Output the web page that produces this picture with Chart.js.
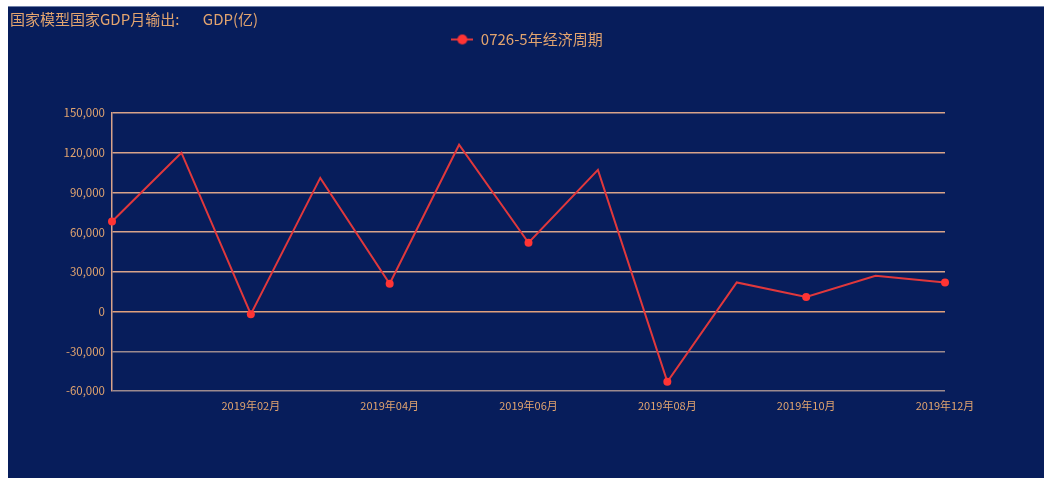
<!DOCTYPE html>
<html>
<head>
<meta charset="utf-8">
<script src="https://cdn.jsdelivr.net/npm/chart.js@4/dist/chart.umd.min.js"></script>
<style>
    body { margin: 0; background: #ffffff; }
    #panel {
        position: absolute; left: 8px; top: 7px;
        width: 1036px; height: 471px;
        background: #071d5b;
        box-shadow: 0 -1px 0 #7080a8;
    }
</style>
</head>
<body>
<div id="panel"><canvas id="gdpChart" width="1036" height="471"></canvas></div>
<script>
// Data
const months = ['2018年12月', '2019年01月', '2019年02月', '2019年03月', '2019年04月', '2019年05月',
    '2019年06月', '2019年07月', '2019年08月', '2019年09月', '2019年10月', '2019年11月', '2019年12月'];
const gdpValues = [68000, 120000, -2000, 101000, 21000, 126000, 52000, 107000, -53000, 22000, 11000, 27000, 22000];
const yTicks = [-60000, -30000, 0, 30000, 60000, 90000, 120000, 150000];

const seriesName = '0726-5年经济周期';
const titleText = '国家模型国家GDP月输出:       GDP(亿)';

const textColor = '#e2a46f';
const gridUpper = '#d8a38a';
const gridZero = '#e0a07c';
const gridLower = '#9c8a8e';
const lineColor = '#e0383c';
const dotColor = '#ff3434';
const fontFamily = '"Noto Sans CJK SC", "Microsoft YaHei", sans-serif';

// legend icon: short line with a dot, like the original
const legendIcon = document.createElement('canvas');
legendIcon.width = 22;
legendIcon.height = 12;
(function () {
    const c = legendIcon.getContext('2d');
    c.strokeStyle = lineColor;
    c.lineWidth = 2;
    c.beginPath();
    c.moveTo(0, 6);
    c.lineTo(22, 6);
    c.stroke();
    c.fillStyle = dotColor;
    c.beginPath();
    c.arc(11, 6, 5, 0, Math.PI * 2);
    c.fill();
})();

// push the plot down below the legend
const legendGap = {
    id: 'legendGap',
    beforeInit(chart) {
        const fit = chart.legend.fit;
        chart.legend.fit = function () {
            fit.bind(chart.legend)();
            this.height += 56;
        };
    }
};

function gridColor(c) {
    const v = c.tick ? c.tick.value : 0;
    if (v > 0) return gridUpper;
    if (v === 0) return gridZero;
    return gridLower;
}

const ctx = document.getElementById('gdpChart').getContext('2d');
new Chart(ctx, {
    type: 'line',
    data: {
        labels: months,
        datasets: [{
            label: seriesName,
            data: gdpValues,
            borderColor: lineColor,
            borderWidth: 2,
            tension: 0,
            pointStyle: 'circle',
            pointRadius: (c) => (c.dataIndex % 2 === 0 ? 4 : 0),
            pointBackgroundColor: dotColor,
            pointBorderColor: dotColor,
            pointBorderWidth: 0
        }]
    },
    options: {
        responsive: false,
        devicePixelRatio: 1,
        animation: false,
        layout: { padding: { left: 2, right: 0, top: 0, bottom: 0 } },
        scales: {
            x: {
                offset: false,
                grid: { display: false, drawTicks: false },
                border: { display: false },
                ticks: {
                    autoSkip: false,
                    maxRotation: 0,
                    padding: 8,
                    color: textColor,
                    font: { family: fontFamily, size: 11 },
                    callback: (v, i) => (i % 2 === 0 && i > 0 ? months[i] : '')
                },
                afterFit: (s) => { s.height = 87; }
            },
            y: {
                min: -60000,
                max: 150000,
                afterBuildTicks: (s) => { s.ticks = yTicks.map(v => ({ value: v })); },
                grid: { color: gridColor, lineWidth: 1.5, drawTicks: false },
                border: { color: gridUpper, width: 1.5 },
                ticks: {
                    padding: 7,
                    color: textColor,
                    font: { family: fontFamily, size: 11.5 },
                    callback: (v) => v.toLocaleString('en-US')
                },
                afterFit: (s) => { s.width = 102; }
            },
            // empty right-hand axis, only keeps the margin on the right
            yRight: {
                position: 'right',
                display: true,
                grid: { display: false, drawTicks: false },
                border: { display: false },
                ticks: { display: false },
                afterFit: (s) => { s.width = 99; }
            }
        },
        plugins: {
            title: {
                display: true,
                text: titleText,
                align: 'start',
                color: textColor,
                font: { family: fontFamily, size: 15, weight: 'normal' },
                padding: { top: 3, bottom: 0 }
            },
            legend: {
                position: 'top',
                labels: {
                    usePointStyle: true,
                    pointStyle: legendIcon,
                    pointStyleWidth: 22,
                    padding: 4,
                    color: textColor,
                    font: { family: fontFamily, size: 15 }
                }
            },
            tooltip: { enabled: false }
        }
    },
    plugins: [legendGap]
});
</script>
</body>
</html>
